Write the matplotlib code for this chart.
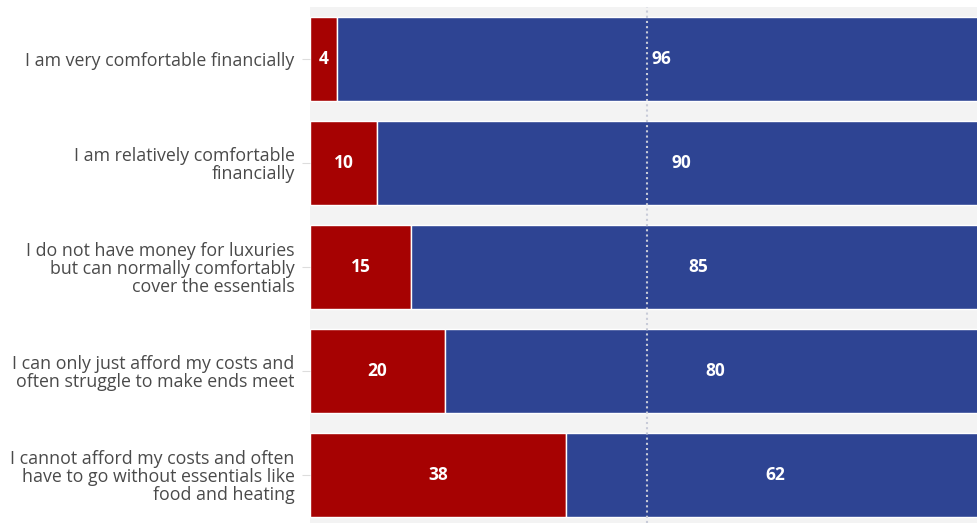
import matplotlib.pyplot as plt
import numpy as np

categories = [
    "I am very comfortable financially",
    "I am relatively comfortable\nfinancially",
    "I do not have money for luxuries\nbut can normally comfortably\ncover the essentials",
    "I can only just afford my costs and\noften struggle to make ends meet",
    "I cannot afford my costs and often\nhave to go without essentials like\nfood and heating",
]
red_vals = [4, 10, 15, 20, 38]
blue_vals = [96, 90, 85, 80, 62]

RED = "#a60202"
BLUE = "#2e4493"

W, H = 978, 523
fig = plt.figure(figsize=(W / 100, H / 100), dpi=100)
# axes runs a bit past the right edge, like the cropped original
ax = fig.add_axes([310 / W, 0, 675 / W, 1 - 7 / H])
ax.set_facecolor("#f3f3f3")

y = np.arange(len(categories))
ax.barh(y, red_vals, height=0.8, color=RED, edgecolor="white", linewidth=1)
ax.barh(y, blue_vals, left=red_vals, height=0.8, color=BLUE,
        edgecolor="white", linewidth=1)

for i in range(len(categories)):
    ax.text(red_vals[i] / 2, i, str(red_vals[i]), ha="center", va="center",
            color="white", fontsize=12.5, fontweight="bold", family="Open Sans")
    ax.text(red_vals[i] + blue_vals[i] / 2, i, str(blue_vals[i]),
            ha="center", va="center", color="white", fontsize=12.5,
            fontweight="bold", family="Open Sans")

ax.axvline(50, color="#c8cbd8", linestyle=(0, (1, 1.5)), linewidth=1.5)

ax.set_xlim(0, 100)
ax.set_ylim(-0.5 + 516 / 104, -0.5)
ax.set_yticks(y)
ax.set_yticklabels(categories, fontsize=12.8, color="#4a4a4a",
                   family="Open Sans", linespacing=1.0)
ax.tick_params(axis="y", length=6, color="#dddddd", pad=5)
ax.set_xticks([])
for s in ax.spines.values():
    s.set_visible(False)

fig.savefig("out.png", dpi=100)
